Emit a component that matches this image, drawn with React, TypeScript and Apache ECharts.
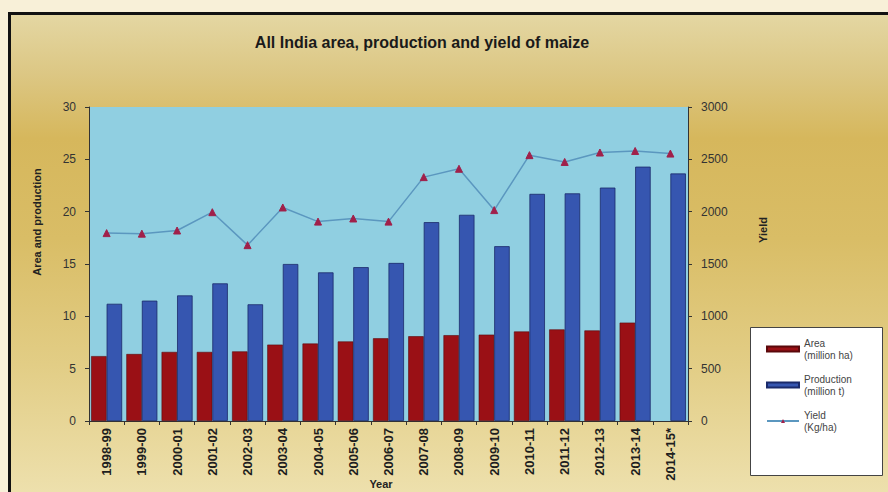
import React, { useEffect, useRef } from "react";
import * as echarts from "echarts";

const years = [
  "1998-99", "1999-00", "2000-01", "2001-02", "2002-03", "2003-04", "2004-05", "2005-06",
  "2006-07", "2007-08", "2008-09", "2009-10", "2010-11", "2011-12", "2012-13", "2013-14", "2014-15*",
];
const areaMha = [6.2, 6.4, 6.6, 6.6, 6.65, 7.3, 7.4, 7.6, 7.9, 8.1, 8.2, 8.25, 8.55, 8.75, 8.65, 9.4, null];
const productionMt = [11.2, 11.5, 12.0, 13.15, 11.15, 15.0, 14.2, 14.7, 15.1, 19.0, 19.7, 16.7, 21.7, 21.75, 22.3, 24.3, 23.65];
const yieldKgHa = [1795, 1790, 1820, 1995, 1680, 2040, 1905, 1935, 1905, 2330, 2410, 2015, 2540, 2475, 2565, 2580, 2555];
const leftTicks = { min: 0, max: 30, interval: 5 };
const rightTicks = { min: 0, max: 3000, interval: 500 };

const FONT = "Liberation Sans, Arial, sans-serif";

export default function App() {
  const ref = useRef<HTMLDivElement>(null);
  useEffect(() => {
    if (!ref.current) return;
    const chart = echarts.init(ref.current, null, { renderer: "svg" });
    chart.setOption({
      animation: false,
      backgroundColor: "#f8f0d8",
      textStyle: { fontFamily: FONT },
      graphic: [
        {
          type: "rect",
          z: -10,
          silent: true,
          shape: { x: 9.5, y: 13.5, width: 900, height: 500 },
          style: {
            stroke: "#111",
            lineWidth: 3,
            fill: new echarts.graphic.LinearGradient(0, 0, 0, 1, [
              { offset: 0, color: "#e4d7a3" },
              { offset: 0.12, color: "#dcc784" },
              { offset: 0.25, color: "#d6b75c" },
              { offset: 0.45, color: "#d9bd66" },
              { offset: 0.7, color: "#e2cd85" },
              { offset: 1, color: "#efe3b3" },
            ]),
          },
        },
        {
          type: "text",
          x: 422,
          y: 42,
          style: {
            text: "All India area, production and yield of maize",
            font: `bold 16px ${FONT}`,
            fill: "#1a1a1a",
            textAlign: "center",
            textVerticalAlign: "middle",
          },
        },
        {
          type: "text",
          x: 37,
          y: 222,
          rotation: Math.PI / 2,
          style: {
            text: "Area and production",
            font: `bold 11px ${FONT}`,
            fill: "#222",
            textAlign: "center",
            textVerticalAlign: "middle",
          },
        },
        {
          type: "text",
          x: 763,
          y: 230,
          rotation: Math.PI / 2,
          style: {
            text: "Yield",
            font: `bold 11px ${FONT}`,
            fill: "#222",
            textAlign: "center",
            textVerticalAlign: "middle",
          },
        },
        {
          type: "text",
          x: 381,
          y: 484,
          style: {
            text: "Year",
            font: `bold 11px ${FONT}`,
            fill: "#222",
            textAlign: "center",
            textVerticalAlign: "middle",
          },
        },
        {
          type: "rect",
          z: 1,
          shape: { x: 750.5, y: 327.5, width: 132, height: 148 },
          style: { fill: "#ffffff", stroke: "#444", lineWidth: 1 },
        },
      ],
      grid: {
        left: 89,
        right: 200,
        top: 107,
        bottom: 71,
        containLabel: false,
        outerBoundsMode: "none",
        show: true,
        backgroundColor: "#90cfe1",
        borderWidth: 0,
      },
      legend: {
        orient: "vertical",
        left: 766,
        top: 331,
        itemGap: 0,
        itemWidth: 32,
        itemHeight: 5,
        padding: 0,
        z: 5,
        textStyle: {
          fontSize: 10,
          color: "#444",
          lineHeight: 12,
          padding: [12, 0, 0, 0],
          fontFamily: FONT,
        },
        data: [
          { name: "Area\n(million ha)", icon: "rect" },
          { name: "Production\n(million t)", icon: "rect" },
          { name: "Yield\n(Kg/ha)" },
        ],
      },
      xAxis: {
        type: "category",
        data: years,
        boundaryGap: true,
        axisLine: { lineStyle: { color: "#333", width: 1 } },
        axisTick: { show: true, length: 4, interval: 0, lineStyle: { color: "#333" } },
        axisLabel: {
          rotate: 90,
          interval: 0,
          margin: 7,
          fontSize: 13,
          fontWeight: "bold",
          color: "#1e1e1e",
          fontFamily: FONT,
        },
      },
      yAxis: [
        {
          type: "value",
          min: leftTicks.min,
          max: leftTicks.max,
          interval: leftTicks.interval,
          axisLine: { show: true, lineStyle: { color: "#333" } },
          axisTick: { show: true, length: 4, lineStyle: { color: "#333" } },
          splitLine: { show: false },
          axisLabel: { margin: 13, fontSize: 12, color: "#333", fontFamily: FONT },
        },
        {
          type: "value",
          min: rightTicks.min,
          max: rightTicks.max,
          interval: rightTicks.interval,
          position: "right",
          axisLine: { show: true, lineStyle: { color: "#333" } },
          axisTick: { show: true, length: 4, lineStyle: { color: "#333" } },
          splitLine: { show: false },
          axisLabel: {
            margin: 13,
            fontSize: 12,
            color: "#333",
            fontFamily: FONT,
            formatter: (v: number) => String(v),
          },
        },
      ],
      series: [
        {
          name: "Area\n(million ha)",
          type: "bar",
          data: areaMha,
          barGap: "0%",
          barCategoryGap: "12%",
          itemStyle: { color: "#9a1015", borderColor: "#5a080b", borderWidth: 0.6 },
        },
        {
          name: "Production\n(million t)",
          type: "bar",
          data: productionMt,
          barGap: "0%",
          barCategoryGap: "12%",
          itemStyle: { color: "#3656b0", borderColor: "#1a2a6a", borderWidth: 0.8 },
        },
        {
          name: "Yield\n(Kg/ha)",
          type: "line",
          yAxisIndex: 1,
          data: yieldKgHa,
          symbol: "triangle",
          symbolSize: 7,
          lineStyle: { color: "#5b97bf", width: 1.5 },
          itemStyle: { color: "#a0204a", borderColor: "#a0204a" },
          z: 5,
        },
      ],
    });
    return () => chart.dispose();
  }, []);
  return (
    <div
      ref={ref}
      style={{ position: "fixed", left: 0, top: 0, width: 888, height: 492 }}
    />
  );
}
